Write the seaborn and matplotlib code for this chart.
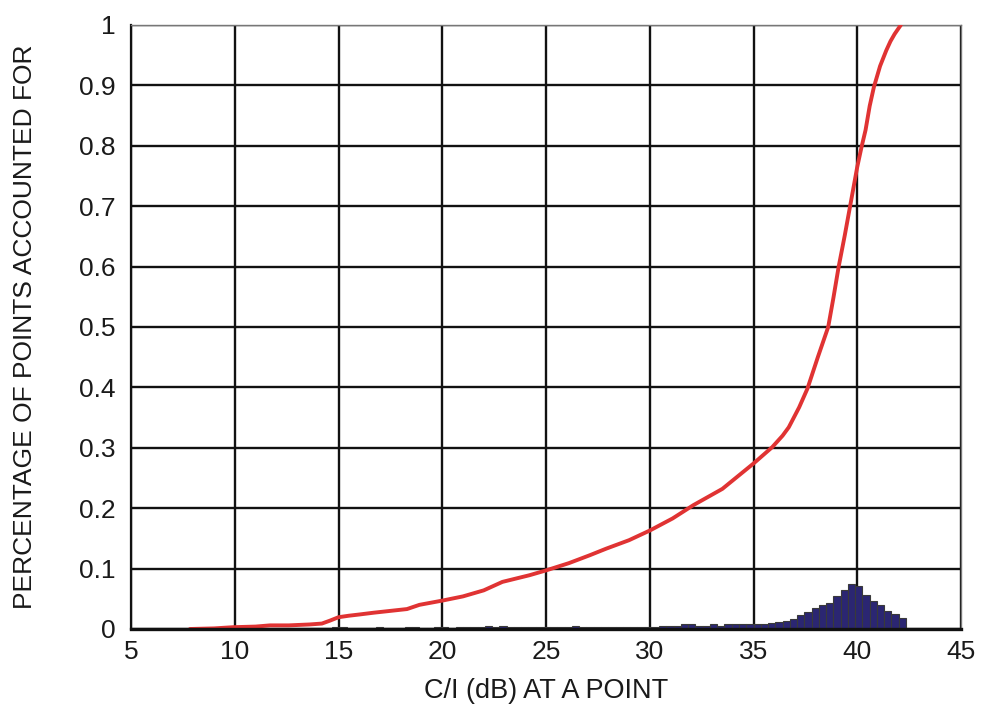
import numpy as np
import pandas as pd
import matplotlib
matplotlib.use("Agg")
import matplotlib.pyplot as plt
import seaborn as sns

# Cumulative fraction of points vs C/I (dB)
cdf_db = [7.84, 9.0, 9.93, 11.0, 11.7, 12.6, 13.6, 14.2, 14.6, 15.0, 15.5, 16.0, 16.7,
          17.5, 18.3, 18.9, 20.0, 21.0, 22.0, 22.9, 24.2, 25.0, 26.1, 27.1, 27.9,
          29.0, 30.0, 31.1, 32.1, 33.5, 35.0, 35.9, 36.4, 36.7, 37.2, 37.6, 38.1,
          38.6, 38.85, 39.1, 39.4, 39.65, 40.0, 40.2, 40.4, 40.6, 40.8, 41.1, 41.4,
          41.6, 41.8, 42.1]
cdf_frac = [0.0, 0.001, 0.003, 0.004, 0.006, 0.006, 0.0075, 0.009, 0.014, 0.0195,
            0.022, 0.024, 0.027, 0.030, 0.033, 0.040, 0.047, 0.054, 0.064, 0.078,
            0.089, 0.097, 0.109, 0.122, 0.133, 0.147, 0.163, 0.183, 0.205, 0.232,
            0.274, 0.301, 0.320, 0.334, 0.367, 0.398, 0.450, 0.500, 0.548, 0.599,
            0.652, 0.699, 0.765, 0.797, 0.826, 0.866, 0.897, 0.932, 0.958, 0.973,
            0.985, 1.0]

# Histogram of C/I values, 0.35 dB bins starting at 13.65 dB
bin_width = 0.35
bin_start = 13.65
bin_frac = [
    0.0015, 0.002, 0.002, 0.0025, 0.0025, 0.002, 0.002, 0.002, 0.002, 0.0025,
    0.002, 0.002, 0.002, 0.0025, 0.0025, 0.002, 0.002, 0.0025, 0.0025, 0.002,
    0.0025, 0.0025, 0.003, 0.0035, 0.005, 0.003, 0.005, 0.003, 0.003, 0.003,
    0.003, 0.003, 0.003, 0.003, 0.003, 0.0035, 0.005, 0.003, 0.0035,
    0.004, 0.004, 0.004, 0.004, 0.004, 0.004, 0.004, 0.004, 0.004, 0.0045,
    0.0055, 0.0055, 0.0075, 0.0075, 0.0055, 0.0055, 0.0075, 0.0055, 0.0075, 0.0075,
    0.0075, 0.0075, 0.009, 0.009, 0.010, 0.012, 0.013, 0.017, 0.024, 0.028,
    0.035, 0.039, 0.043, 0.054, 0.064, 0.075, 0.071, 0.056, 0.047, 0.040,
    0.030, 0.025, 0.018,
]

x_ticks = [5, 10, 15, 20, 25, 30, 35, 40, 45]
y_ticks = [0, 0.1, 0.2, 0.3, 0.4, 0.5, 0.6, 0.7, 0.8, 0.9, 1.0]
y_tick_labels = ["0", "0.1", "0.2", "0.3", "0.4", "0.5", "0.6", "0.7", "0.8", "0.9", "1"]

n_bins = len(bin_frac)
centers = bin_start + bin_width * (np.arange(n_bins) + 0.5)
hist_df = pd.DataFrame({"db": centers, "frac": bin_frac})
cdf_df = pd.DataFrame({"db": cdf_db, "frac": cdf_frac})

sns.set_style("white")
plt.rcParams["font.family"] = ["Liberation Sans", "DejaVu Sans"]

fig = plt.figure(figsize=(9.84, 7.05), dpi=100)
ax = fig.add_axes([131 / 984, 1 - 629 / 705, (961 - 131) / 984, (629 - 25) / 705])

# grid
ax.set_axisbelow(True)
ax.grid(True, color="#111111", linewidth=1.7)

sns.histplot(data=hist_df, x="db", weights="frac", binwidth=bin_width,
             binrange=(bin_start, bin_start + bin_width * n_bins), stat="count",
             color="#2b2672", alpha=1.0, edgecolor="#3a3a3a", linewidth=0.8,
             ax=ax, zorder=3)

sns.lineplot(data=cdf_df, x="db", y="frac", color="#e03333", linewidth=2.8,
             ax=ax, zorder=4, sort=False)

ax.set_xlim(5, 45)
ax.set_ylim(0, 1)
ax.set_xticks(x_ticks)
ax.set_xticklabels([str(t) for t in x_ticks])
ax.set_yticks(y_ticks)
ax.set_yticklabels(y_tick_labels)
ax.tick_params(axis="both", length=0, labelsize=19, colors="#1a1a1a")
ax.tick_params(axis="x", pad=8)
ax.tick_params(axis="y", pad=11)

ax.set_xlabel("C/I (dB) AT A POINT", fontsize=19.5, color="#1a1a1a", labelpad=10)
ax.set_ylabel("PERCENTAGE OF POINTS ACCOUNTED FOR", fontsize=19, color="#1a1a1a",
              labelpad=30)

for side in ["top", "right"]:
    ax.spines[side].set_color("#777777")
    ax.spines[side].set_linewidth(1.0)
ax.spines["left"].set_color("#111111")
ax.spines["left"].set_linewidth(1.6)
ax.spines["bottom"].set_color("#111111")
ax.spines["bottom"].set_linewidth(2.4)
ax.spines["bottom"].set_zorder(5)

fig.savefig("out.png", dpi=100, facecolor="white")
